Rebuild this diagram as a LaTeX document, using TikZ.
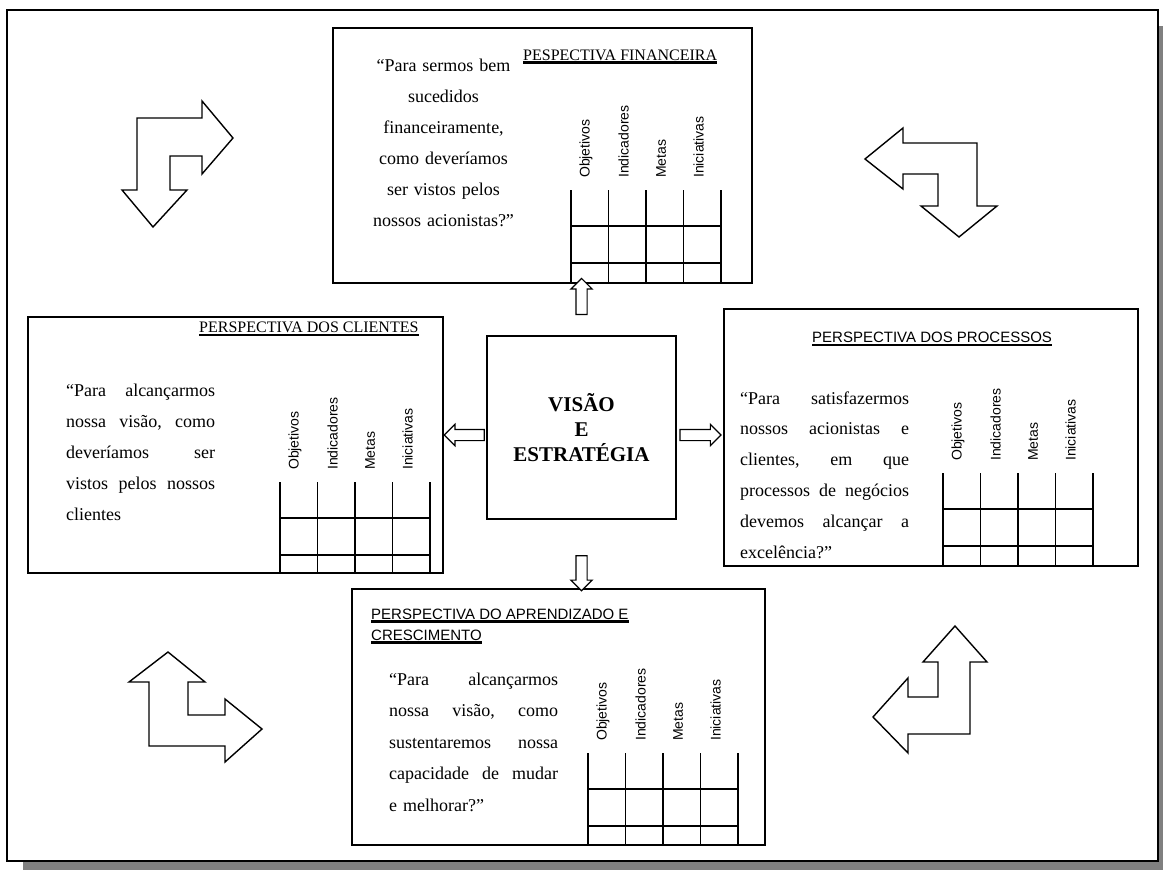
\documentclass[tikz,border=0pt]{standalone}
\usepackage{fontspec}
\setmainfont{Liberation Serif}
\setsansfont{Liberation Sans}
\usetikzlibrary{shapes.arrows}

\tikzset{
  caixa/.style={draw, line width=1.5pt, fill=white, inner sep=0pt},
  grade/.style={line width=1.4pt},
  rotulo/.style={rotate=90, anchor=west, inner sep=0pt, font=\sffamily\fontsize{14}{14}\selectfont},
  titulo/.style={anchor=base west, inner sep=0pt, font=\fontsize{16}{16}\selectfont},
  titulosf/.style={anchor=base west, inner sep=0pt, font=\sffamily\fontsize{15}{15}\selectfont},
  sublinha/.style={line width=2.2pt},
  citacao/.style={anchor=base west, inner sep=0pt, align=left, font=\fontsize{18}{31}\selectfont},
  seta/.style={single arrow, draw, line width=1.2pt, fill=white, inner xsep=0pt, inner ysep=5pt,
    single arrow head extend=5pt, sloped, allow upside down},
  curva/.style={draw, line width=1.4pt, fill=white, line join=miter},
}

% linha justificada (largura, texto com \hfill entre palavras)
\newcommand{\lin}[2]{\leavevmode\hbox to #1{#2}}

% grade de objetivos/indicadores/metas/iniciativas
\newcommand{\tabela}[4]{%
  \foreach \i in {0,...,4}
    \draw[grade] ({#2+37.5*\i},#3) -- ({#2+37.5*\i},#4);
  \draw[grade] (#2,#3+36) -- ({#2+150},#3+36);
  \draw[grade] (#2,#3+73) -- ({#2+150},#3+73);
  \foreach \n [count=\k from 0] in {Objetivos,Indicadores,Metas,Iniciativas}
    \node[rotulo] (#1\k) at ({#2+37.5*\k+15},#3-12) {\n};
}

\begin{document}
\begin{tikzpicture}[x=1pt, y=-1pt]
  \useasboundingbox (0,0) rectangle (1163,870);

  % moldura com sombra
  \fill[black!50] (23,26) rectangle (1175,880);
  \draw[line width=2pt, fill=white] (7,10) rectangle (1158,861);

  % caixas
  \node[caixa, minimum width=419pt, minimum height=255pt] (fin) at (542.5,155.5) {};
  \node[caixa, minimum width=415pt, minimum height=256pt] (cli) at (235.5,445) {};
  \node[caixa, minimum width=414pt, minimum height=257pt] (pro) at (931,437.5) {};
  \node[caixa, minimum width=413pt, minimum height=256pt] (apr) at (558.5,717) {};
  \node[caixa, minimum width=189pt, minimum height=183pt, align=center,
        font=\bfseries\fontsize{21}{25}\selectfont] (cen) at (581.5,427.5)
        {VISÃO\\E\\ESTRATÉGIA};

  % setas entre a visao e as perspectivas
  \path (cen.north) -- (cen.north |- fin.south) node[seta, minimum height=36pt, pos=0.7] (sfin) {};
  \path (cen.south) -- (cen.south |- apr.north) node[seta, minimum height=35pt, pos=0.74] (sapr) {};
  \path ([yshift=-7.5pt]cen.west) -- ([yshift=-7.5pt]cen.west -| cli.east) node[seta, minimum height=40pt, pos=0.45] (scli) {};
  \path ([yshift=-7.5pt]cen.east) -- ([yshift=-7.5pt]cen.east -| pro.west) node[seta, minimum height=41pt, pos=0.45] (spro) {};

  % perspectiva financeira
  \node[titulo] (tfin) at (523,60) {PESPECTIVA FINANCEIRA};
  \draw[sublinha] ([yshift=-2.5pt]tfin.base west) -- ([yshift=-2.5pt]tfin.base east);
  \node[citacao, anchor=base, text width=170pt, align=center] (qfin) at (443.5,71.7)
    {“Para sermos bem\\ sucedidos\\ financeiramente,\\ como deveríamos\\ ser vistos pelos\\ nossos acionistas?”};
  \tabela{gfin}{571}{190}{283}

  % perspectiva dos clientes
  \node[citacao, text width=149pt] (qcli) at (66,396.7)
    {\lin{149pt}{“Para\hfill alcançarmos}\\ \lin{149pt}{nossa\hfill visão,\hfill como}\\
     \lin{149pt}{deveríamos\hfill ser}\\ \lin{149pt}{vistos\hfill pelos\hfill nossos}\\ clientes};
  \node[titulo] (tcli) at (199,332) {PERSPECTIVA DOS CLIENTES};
  \draw[sublinha] ([yshift=-3pt]tcli.base west) -- ([yshift=-3pt]tcli.base east);
  \tabela{gcli}{280}{482}{573}

  % perspectiva dos processos
  \node[titulosf] (tpro) at (812,342) {PERSPECTIVA DOS PROCESSOS};
  \draw[sublinha] ([yshift=-3pt]tpro.base west) -- ([yshift=-3pt]tpro.base east);
  \node[citacao, text width=169pt, font=\fontsize{18}{30.8}\selectfont] (qpro) at (740,404)
    {\lin{169pt}{“Para\hfill satisfazermos}\\ \lin{169pt}{nossos\hfill acionistas\hfill e}\\
     \lin{169pt}{clientes,\hfill em\hfill que}\\ \lin{169pt}{processos\hfill de\hfill negócios}\\
     \lin{169pt}{devemos\hfill alcançar\hfill a}\\ excelência?”};
  \tabela{gpro}{943}{473}{566}

  % perspectiva do aprendizado e crescimento
  \node[titulosf] (tapr) at (371,619) {PERSPECTIVA DO APRENDIZADO E};
  \node[titulosf] (tapb) at (371,640) {CRESCIMENTO};
  \draw[sublinha] ([yshift=-2.5pt]tapr.base west) -- ([yshift=-2.5pt]tapr.base east);
  \draw[sublinha] ([yshift=-2.5pt]tapb.base west) -- ([yshift=-2.5pt]tapb.base east);
  \node[citacao, text width=169pt, font=\fontsize{18}{31.6}\selectfont] (qapr) at (389,685)
    {\lin{169pt}{“Para\hfill alcançarmos}\\ \lin{169pt}{nossa\hfill visão,\hfill como}\\
     \lin{169pt}{sustentaremos\hfill nossa}\\ \lin{169pt}{capacidade\hfill de\hfill mudar}\\ e melhorar?”};
  \tabela{gapr}{588}{753}{845}

  % setas dos cantos
  \draw[curva] (137,118) -- (202,118) -- (202,101) -- (233,138) -- (202,174) -- (202,156)
    -- (170,156) -- (170,190) -- (187,190) -- (153,227) -- (122,190) -- (137,190) -- cycle;
  \draw[curva] (903,143) -- (977,143) -- (977,206) -- (997,206) -- (959,237) -- (921,206)
    -- (938,206) -- (938,174) -- (903,174) -- (903,189) -- (865,159) -- (903,128) -- cycle;
  \draw[curva] (168,652) -- (205,682) -- (188,682) -- (188,715) -- (225,715) -- (225,699)
    -- (262,729) -- (225,762) -- (225,746) -- (149,746) -- (149,682) -- (129,682) -- cycle;
  \draw[curva] (955,626) -- (987,662) -- (970,662) -- (970,734) -- (908,734) -- (908,753)
    -- (873,717) -- (908,678) -- (908,697) -- (938,697) -- (938,662) -- (923,662) -- cycle;
\end{tikzpicture}
\end{document}
